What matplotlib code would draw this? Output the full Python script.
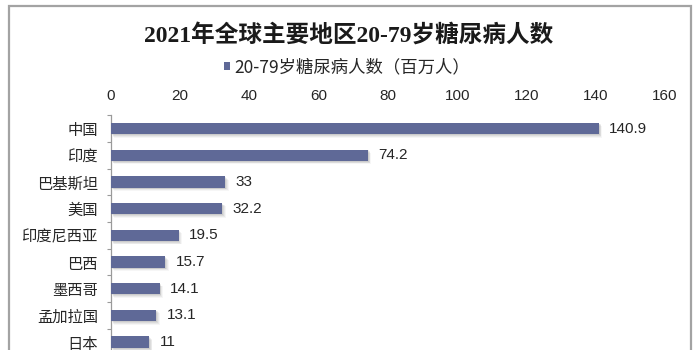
import matplotlib
matplotlib.use("Agg")
import matplotlib.pyplot as plt
import matplotlib.patheffects as pe
from matplotlib.patches import Rectangle, Patch

# Data
regions = ["中国", "印度", "巴基斯坦", "美国", "印度尼西亚", "巴西", "墨西哥", "孟加拉国", "日本"]
patients = [140.9, 74.2, 33, 32.2, 19.5, 15.7, 14.1, 13.1, 11]
x_ticks = [0, 20, 40, 60, 80, 100, 120, 140, 160]
title = "2021年全球主要地区20-79岁糖尿病人数"
series_name = "20-79岁糖尿病人数（百万人）"

BAR = "#5f6997"
TXT = "#262626"
CJK = ["Noto Sans CJK SC", "DejaVu Sans"]
NUM = ["Liberation Sans", "Noto Sans CJK SC"]

W, H = 700, 350
fig = plt.figure(figsize=(7, 3.5), dpi=100)
fig.patch.set_facecolor("white")

# plot area in pixel terms (rows continue past the lower edge)
left_px, right_px, top_px, row_px = 111, 665, 115.2, 26.7
n = len(regions)
ax = fig.add_axes([left_px / W, (H - top_px - n * row_px) / H,
                   (right_px - left_px) / W, n * row_px / H])

ypos = list(range(n))
# soft drop shadow under each bar
shadow = [
    pe.SimplePatchShadow(offset=(2.4, -2.4), shadow_rgbFace="#000000", alpha=0.035),
    pe.SimplePatchShadow(offset=(1.8, -1.8), shadow_rgbFace="#000000", alpha=0.05),
    pe.SimplePatchShadow(offset=(1.2, -1.2), shadow_rgbFace="#000000", alpha=0.06),
    pe.SimplePatchShadow(offset=(0.6, -0.6), shadow_rgbFace="#000000", alpha=0.07),
    pe.Normal(),
]
bars = ax.barh(ypos, patients, height=0.43, color=BAR, zorder=3)
for b in bars:
    b.set_path_effects(shadow)

for y, v in zip(ypos, patients):
    ax.annotate(f"{v:g}", xy=(v, y), xytext=(7.5, 0), textcoords="offset points",
                ha="left", va="center", fontsize=11, family=NUM, color=TXT)

ax.set_xlim(x_ticks[0], x_ticks[-1])
ax.set_ylim(n - 0.5, -0.5)
ax.set_xticks(x_ticks)
ax.xaxis.tick_top()
ax.tick_params(axis="x", length=0, pad=9, labelsize=11, labelcolor=TXT)
for lab in ax.get_xticklabels():
    lab.set_family(NUM)

ax.set_yticks(ypos)
ax.set_yticklabels(regions, family=CJK, fontsize=11, color=TXT)
ax.set_yticks([i - 0.5 for i in range(n + 1)], minor=True)
ax.tick_params(axis="y", which="major", length=0, pad=9.5)
ax.tick_params(axis="y", which="minor", length=3, width=0.8, color="#9a9a9a")

for s in ("top", "right", "bottom"):
    ax.spines[s].set_visible(False)
ax.spines["left"].set_color("#9a9a9a")
ax.spines["left"].set_linewidth(0.9)

# title and legend
fig.text(349 / W, 1 - 35 / H, title, ha="center", va="center", fontsize=17,
         fontweight="bold", family=["Liberation Serif", "Noto Sans CJK SC"], color="#1a1a1a")
proxy = Patch(facecolor=BAR, edgecolor="none")
fig.legend(handles=[proxy], labels=[series_name], loc="center",
           bbox_to_anchor=(347 / W, 1 - 67 / H), frameon=False,
           handlelength=0.36, handleheight=0.36, handletextpad=0.25,
           prop={"family": CJK, "size": 12.5}, labelcolor=TXT)

# chart-area border
fig.add_artist(Rectangle((9 / W, -0.2), 682 / W, 1.2 - 5.5 / H, transform=fig.transFigure,
                         fill=False, edgecolor="#a3a3a3", linewidth=1.6))

fig.savefig("out.png", dpi=100)
